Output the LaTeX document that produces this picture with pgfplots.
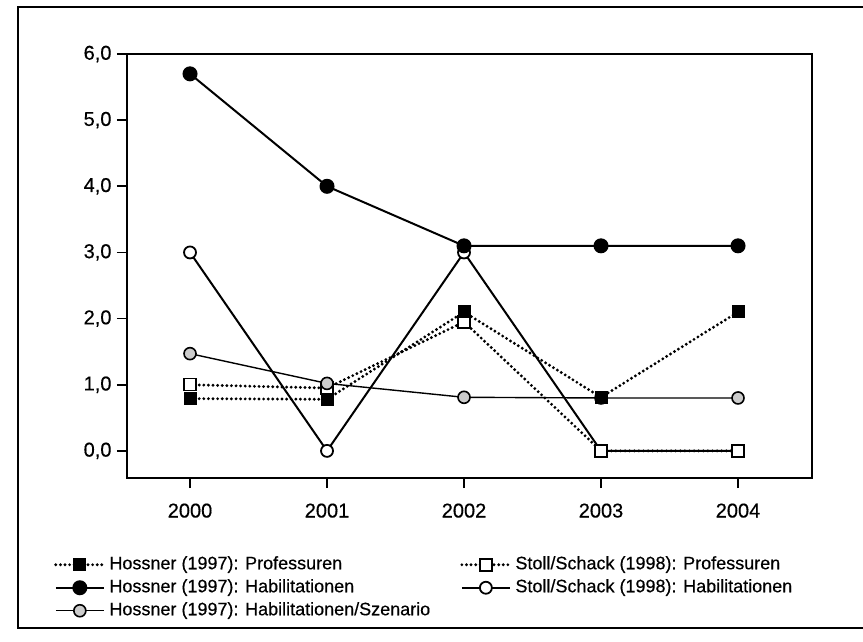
\documentclass[border=0pt]{standalone}
\usepackage{fontspec}
\setmainfont[FakeBold=0.4]{Liberation Sans}
\usepackage{pgfplots}
\pgfplotsset{compat=1.18}
\begin{document}
\begin{tikzpicture}[x=1pt,y=1pt]
\useasboundingbox (0,0) rectangle (863,641);
\fill[white] (0,0) rectangle (863,641);
\draw[line width=1.6pt] (863,634) -- (18,634) -- (18,13) -- (863,13);
\begin{axis}[
  at={(127pt,163pt)}, anchor=south west,
  scale only axis, width=685pt, height=424pt,
  xmin=-0.46, xmax=4.54, ymin=-0.41, ymax=6,
  axis line style={line width=1.8pt},
  xtick={0,1,2,3,4}, xticklabels={2000,2001,2002,2003,2004},
  ytick={0,1,2,3,4,5,6},
  yticklabel={\pgfmathprintnumber[fixed,fixed zerofill,precision=1,use comma]{\tick}},
  /pgf/number format/assume math mode=true,
  tick align=outside, major tick length=10pt,
  xtick pos=bottom, ytick pos=left,
  tick style={line width=1.8pt, black},
  ticklabel style={font=\fontsize{20}{23}\selectfont},
  xticklabel style={yshift=-12pt},
  yticklabel style={xshift=-2pt},
  legend style={at={(-0.1065,-0.177)}, anchor=north west, draw=none, fill=none,
    font=\fontsize{18}{21}\selectfont, inner sep=0pt, row sep=0pt,
    nodes={inner sep=2pt, text height=14pt, text depth=5pt},
    /tikz/every odd column/.append style={column sep=2pt},
    /tikz/every even column/.append style={column sep=28pt}},
  legend columns=3, transpose legend,
  legend cell align=left,
  legend image code/.code={\draw[mark repeat=2,mark phase=2,#1] plot coordinates {(0pt,0pt) (24pt,0pt) (48pt,0pt)};},
]
% drawing order
\addplot[forget plot, black, line width=2pt, mark=*, mark size=6pt, mark options={fill=white, line width=1.8pt}]
  coordinates {(0,3.0) (1,0.0) (2,3.0) (3,0.0) (4,0.0)};
\addplot[forget plot, black, line width=3.2pt, line cap=round, dash pattern=on 0pt off 4.6pt, mark=square*, mark size=6pt, mark options={solid, fill=white, line width=1.5pt}]
  coordinates {(0,1.0) (1,0.95) (2,1.95) (3,0.0) (4,0.0)};
\addplot[forget plot, black, line width=1.4pt, mark=*, mark size=6pt, mark options={fill=gray!40, line width=1.6pt}]
  coordinates {(0,1.47) (1,1.02) (2,0.81) (3,0.8) (4,0.8)};
\addplot[forget plot, black, line width=3.2pt, line cap=round, dash pattern=on 0pt off 4.6pt, mark=square*, mark size=6pt, mark options={solid, fill=black, line width=1pt}]
  coordinates {(0,0.79) (1,0.78) (2,2.1) (3,0.81) (4,2.1)};
\addplot[forget plot, black, line width=2pt, mark=*, mark size=6.5pt, mark options={fill=black}]
  coordinates {(0,5.7) (1,4.0) (2,3.1) (3,3.1) (4,3.1)};
% legend
\addlegendimage{black, line width=3.2pt, line cap=round, dash pattern=on 0pt off 4.6pt, mark=square*, mark size=6pt, mark options={solid, fill=black, line width=1pt}}
\addlegendentry{Hossner (1997): Professuren}
\addlegendimage{black, line width=2pt, mark=*, mark size=6.5pt, mark options={fill=black}}
\addlegendentry{Hossner (1997): Habilitationen}
\addlegendimage{black, line width=1.4pt, mark=*, mark size=6pt, mark options={fill=gray!40, line width=1.6pt}}
\addlegendentry{Hossner (1997): Habilitationen/Szenario}
\addlegendimage{black, line width=3.2pt, line cap=round, dash pattern=on 0pt off 4.6pt, mark=square*, mark size=6pt, mark options={solid, fill=white, line width=1.5pt}}
\addlegendentry{Stoll/Schack (1998): Professuren}
\addlegendimage{black, line width=2pt, mark=*, mark size=6pt, mark options={fill=white, line width=1.8pt}}
\addlegendentry{Stoll/Schack (1998): Habilitationen}
\end{axis}
\end{tikzpicture}
\end{document}
